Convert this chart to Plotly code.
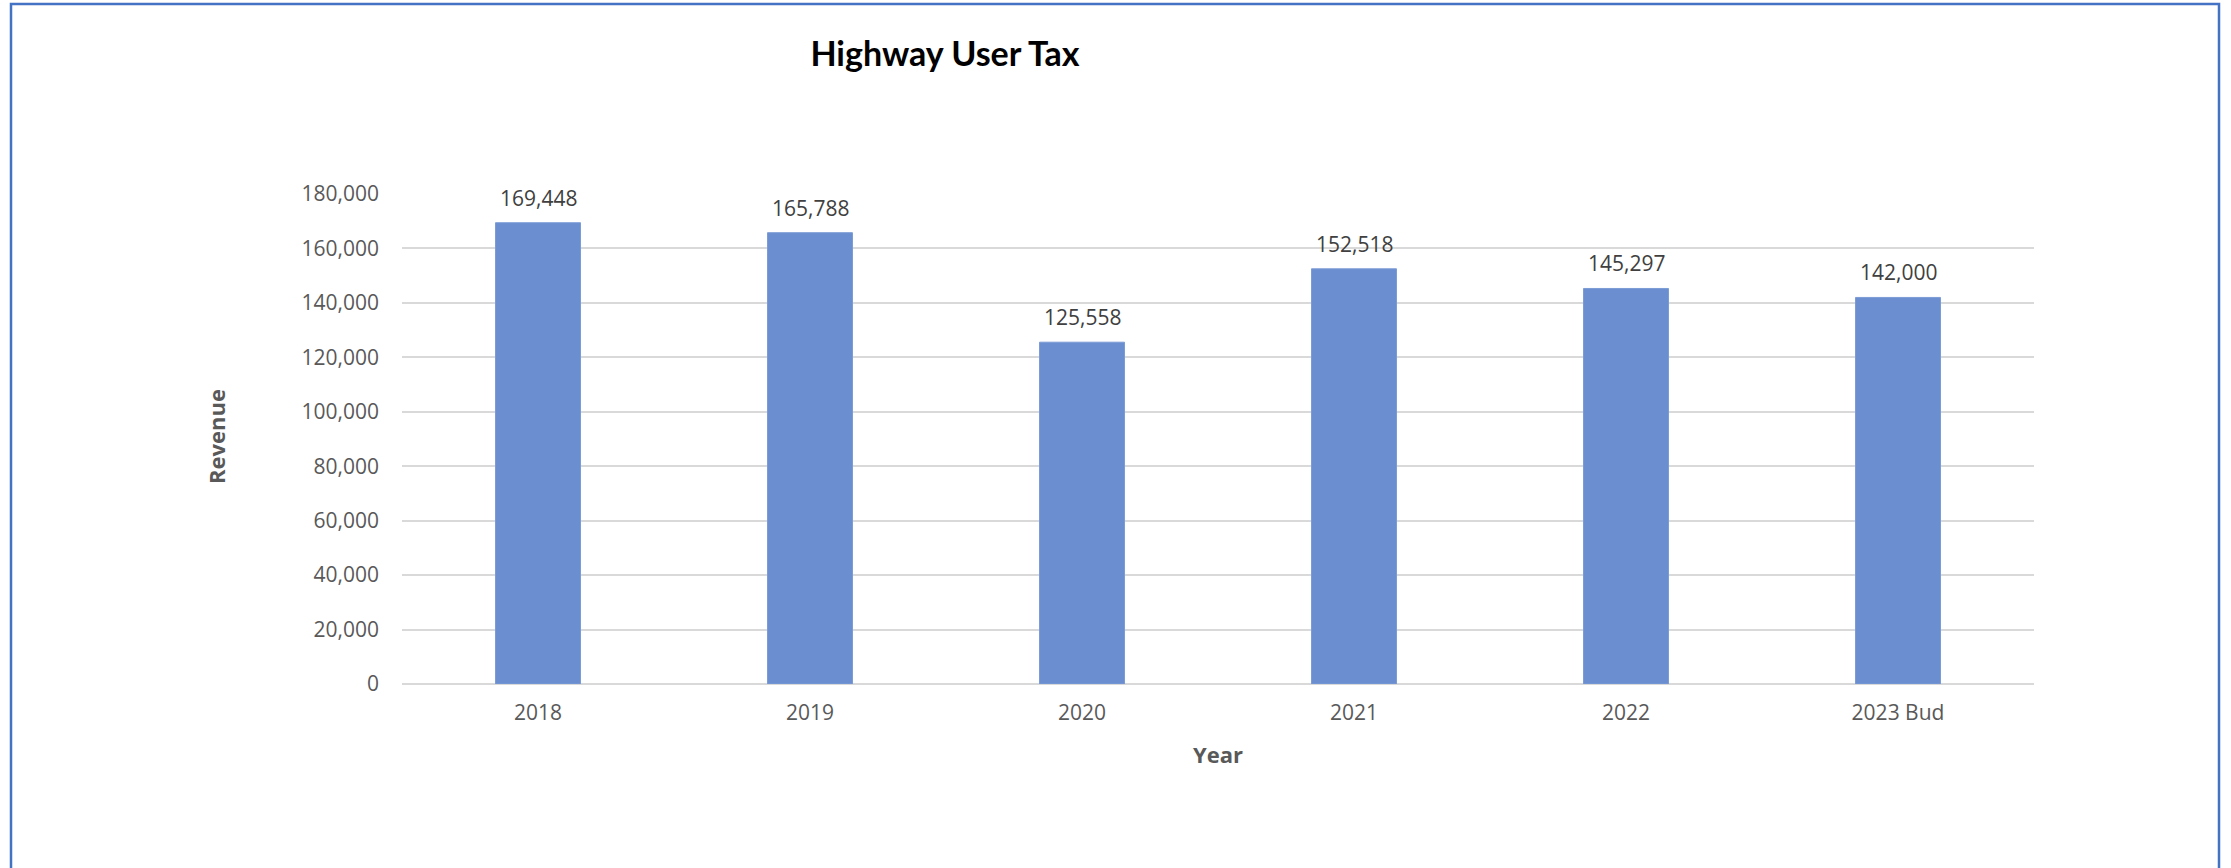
import plotly.graph_objects as go

# Highway user tax revenue by year
years = ["2018", "2019", "2020", "2021", "2022", "2023 Bud"]
revenue = [169448, 165788, 125558, 152518, 145297, 142000]
y_ticks = [0, 20000, 40000, 60000, 80000, 100000, 120000, 140000, 160000, 180000]

W, H = 2231, 868
L, R, T, B = 402, 197, 194, 184
plot_w = W - L - R
plot_h = H - T - B


def px_x(px):
    return (px - L) / plot_w


def px_y(py):
    return (H - B - py) / plot_h


BAR_COLOR = "#6A8ECF"
GRID = "#D9D9D9"
TICK_FONT = dict(family="Open Sans", size=21, color="#595959")

fig = go.Figure()
fig.add_trace(go.Bar(
    x=years,
    y=revenue,
    marker=dict(color=BAR_COLOR, line=dict(color="#7C9CD6", width=1)),
    hoverinfo="skip",
))

# value labels above each bar (category axis positions are given by index)
annotations = [
    dict(x=i, y=v, xref="x", yref="y", text=f"{v:,}", showarrow=False,
         yanchor="middle", yshift=25,
         font=dict(family="Open Sans", size=21, color="#404040"))
    for i, v in enumerate(revenue)
]

# axis titles
annotations.append(dict(
    x=px_x(216), y=px_y(437), xref="paper", yref="paper", text="<b>Revenue</b>",
    textangle=-90, showarrow=False, xanchor="center", yanchor="middle",
    font=dict(family="Open Sans", size=22, color="#595959")))
annotations.append(dict(
    x=px_x(1218), y=px_y(754), xref="paper", yref="paper", text="<b>Year</b>",
    showarrow=False, xanchor="center", yanchor="middle",
    font=dict(family="Open Sans", size=22, color="#595959")))

fig.update_layout(
    width=W, height=H,
    margin=dict(l=L, r=R, t=T, b=B, pad=0),
    paper_bgcolor="white",
    plot_bgcolor="white",
    showlegend=False,
    bargap=0.6875,
    title=dict(
        text="<b>Highway User Tax</b>",
        x=945 / W, xanchor="center", xref="container",
        y=1 - 54 / H, yanchor="middle", yref="container",
        font=dict(family="Lato", size=34, color="#000000"),
    ),
    annotations=annotations,
    shapes=[dict(
        type="rect", xref="paper", yref="paper",
        x0=px_x(11), x1=px_x(2219), y0=px_y(900), y1=px_y(4),
        line=dict(color="#4472C4", width=2.5), fillcolor="rgba(0,0,0,0)",
        layer="above",
    )],
)

fig.update_xaxes(
    type="category",
    categoryorder="array",
    categoryarray=years,
    range=[-0.5, len(years) - 0.5],
    autorange=False,
    showgrid=False,
    showline=False,
    ticks="",
    tickfont=TICK_FONT,
    ticklabelstandoff=14,
    fixedrange=True,
)
fig.update_yaxes(
    range=[0, 180000],
    autorange=False,
    tickvals=y_ticks,
    ticktext=[f"{t:,}" for t in y_ticks],
    showgrid=True,
    gridcolor=GRID,
    gridwidth=2,
    zeroline=True,
    zerolinecolor=GRID,
    zerolinewidth=2,
    showline=False,
    ticks="",
    tickfont=TICK_FONT,
    ticklabelstandoff=22,
    fixedrange=True,
)

fig.write_html("out.html", config={"displayModeBar": False})
